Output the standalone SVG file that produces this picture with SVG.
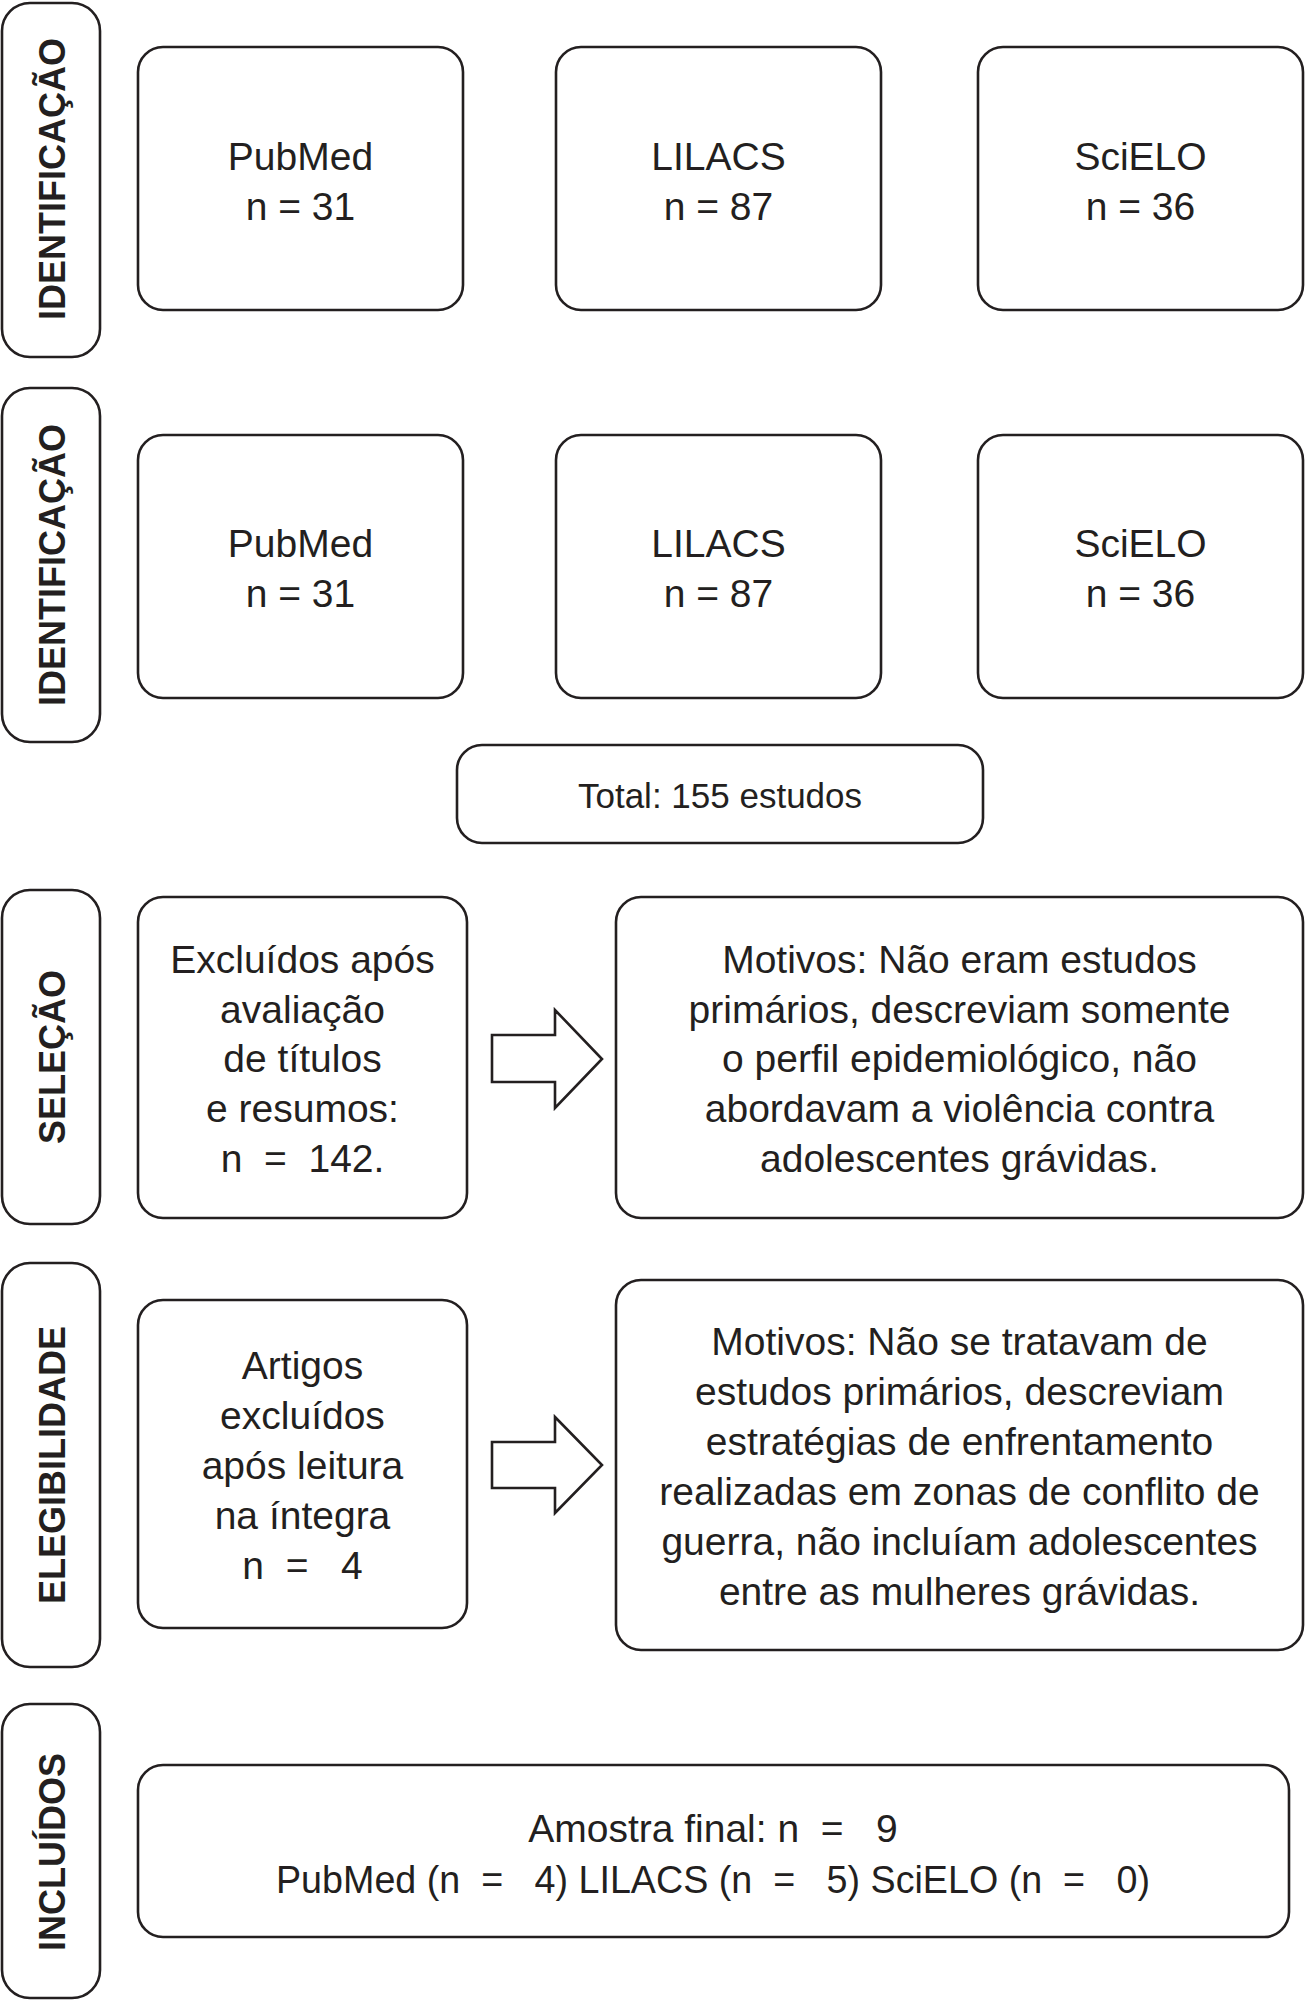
<svg xmlns="http://www.w3.org/2000/svg" width="1306" height="2000" viewBox="0 0 1306 2000">
<style>
.bg{fill:#ffffff}
.box{fill:#ffffff;stroke:#231f20;stroke-width:2.6}
.arrow{fill:#ffffff;stroke:#231f20;stroke-width:2.6;stroke-linejoin:miter}
.lbl{font-family:"Liberation Sans",Arial,sans-serif;font-weight:bold;font-size:36px;fill:#231f20;text-anchor:middle}
.t{font-family:"Liberation Sans",Arial,sans-serif;font-size:39px;fill:#231f20;text-anchor:middle;white-space:pre}
.tot{font-family:"Liberation Sans",Arial,sans-serif;font-size:35px;fill:#231f20;text-anchor:middle}
</style>
<rect class="bg" x="0" y="0" width="1306" height="2000"/>

<g id="stage-identificacao-1">
<rect class="box" x="2" y="3" width="98" height="354" rx="28"/>
<text class="lbl" transform="translate(65,179) rotate(-90)">IDENTIFICAÇÃO</text>
</g>
<g id="pubmed-1">
<rect class="box" x="138" y="47" width="325" height="263" rx="25"/>
<text class="t" x="300.5" y="170">PubMed</text>
<text class="t" x="300.5" y="220">n = 31</text>
</g>
<g id="lilacs-1">
<rect class="box" x="556" y="47" width="325" height="263" rx="25"/>
<text class="t" x="718.5" y="170">LILACS</text>
<text class="t" x="718.5" y="220">n = 87</text>
</g>
<g id="scielo-1">
<rect class="box" x="978" y="47" width="325" height="263" rx="25"/>
<text class="t" x="1140.5" y="170">SciELO</text>
<text class="t" x="1140.5" y="220">n = 36</text>
</g>

<g id="stage-identificacao-2">
<rect class="box" x="2" y="388" width="98" height="354" rx="28"/>
<text class="lbl" transform="translate(65,565) rotate(-90)">IDENTIFICAÇÃO</text>
</g>
<g id="pubmed-2">
<rect class="box" x="138" y="435" width="325" height="263" rx="25"/>
<text class="t" x="300.5" y="557">PubMed</text>
<text class="t" x="300.5" y="607">n = 31</text>
</g>
<g id="lilacs-2">
<rect class="box" x="556" y="435" width="325" height="263" rx="25"/>
<text class="t" x="718.5" y="557">LILACS</text>
<text class="t" x="718.5" y="607">n = 87</text>
</g>
<g id="scielo-2">
<rect class="box" x="978" y="435" width="325" height="263" rx="25"/>
<text class="t" x="1140.5" y="557">SciELO</text>
<text class="t" x="1140.5" y="607">n = 36</text>
</g>

<g id="total">
<rect class="box" x="457" y="745" width="526" height="98" rx="25"/>
<text class="tot" x="720" y="808">Total: 155 estudos</text>
</g>

<g id="stage-selecao">
<rect class="box" x="2" y="890" width="98" height="334" rx="28"/>
<text class="lbl" transform="translate(65,1057) rotate(-90)">SELEÇÃO</text>
</g>
<g id="excluidos-selecao">
<rect class="box" x="138" y="897" width="329" height="321" rx="25"/>
<text class="t" x="302.5" y="973">Excluídos após</text>
<text class="t" x="302.5" y="1023">avaliação</text>
<text class="t" x="302.5" y="1072">de títulos</text>
<text class="t" x="302.5" y="1122">e resumos:</text>
<text class="t" x="302.5" y="1172" xml:space="preserve">n  =  142.</text>
</g>
<g id="motivos-selecao">
<rect class="box" x="616" y="897" width="687" height="321" rx="25"/>
<text class="t" x="959.5" y="973">Motivos: Não eram estudos</text>
<text class="t" x="959.5" y="1023">primários, descreviam somente</text>
<text class="t" x="959.5" y="1072">o perfil epidemiológico, não</text>
<text class="t" x="959.5" y="1122">abordavam a violência contra</text>
<text class="t" x="959.5" y="1172">adolescentes grávidas.</text>
</g>

<g id="stage-elegibilidade">
<rect class="box" x="2" y="1263" width="98" height="404" rx="28"/>
<text class="lbl" transform="translate(65,1465) rotate(-90)">ELEGIBILIDADE</text>
</g>
<g id="excluidos-elegibilidade">
<rect class="box" x="138" y="1300" width="329" height="328" rx="25"/>
<text class="t" x="302.5" y="1379">Artigos</text>
<text class="t" x="302.5" y="1429">excluídos</text>
<text class="t" x="302.5" y="1479">após leitura</text>
<text class="t" x="302.5" y="1529">na íntegra</text>
<text class="t" x="302.5" y="1579" xml:space="preserve">n  =   4</text>
</g>
<g id="motivos-elegibilidade">
<rect class="box" x="616" y="1280" width="687" height="370" rx="25"/>
<text class="t" x="959.5" y="1355">Motivos: Não se tratavam de</text>
<text class="t" x="959.5" y="1405">estudos primários, descreviam</text>
<text class="t" x="959.5" y="1455">estratégias de enfrentamento</text>
<text class="t" x="959.5" y="1505">realizadas em zonas de conflito de</text>
<text class="t" x="959.5" y="1555">guerra, não incluíam adolescentes</text>
<text class="t" x="959.5" y="1605">entre as mulheres grávidas.</text>
</g>

<g id="stage-incluidos">
<rect class="box" x="2" y="1704" width="98" height="294" rx="28"/>
<text class="lbl" transform="translate(65,1852) rotate(-90)">INCLUÍDOS</text>
</g>
<g id="amostra-final">
<rect class="box" x="138" y="1765" width="1151" height="172" rx="25"/>
<text class="t" x="713" y="1842" xml:space="preserve">Amostra final: n  =   9</text>
<text class="t" x="713" y="1893" xml:space="preserve" textLength="874" lengthAdjust="spacingAndGlyphs">PubMed (n  =   4) LILACS (n  =   5) SciELO (n  =   0)</text>
</g>

<g id="connectors">
<polygon class="arrow" points="492,1035 555,1035 555,1010 602,1059 555,1108 555,1082 492,1082"/>
<polygon class="arrow" points="492,1442 555,1442 555,1417 602,1465 555,1513 555,1488 492,1488"/>
</g>
</svg>
